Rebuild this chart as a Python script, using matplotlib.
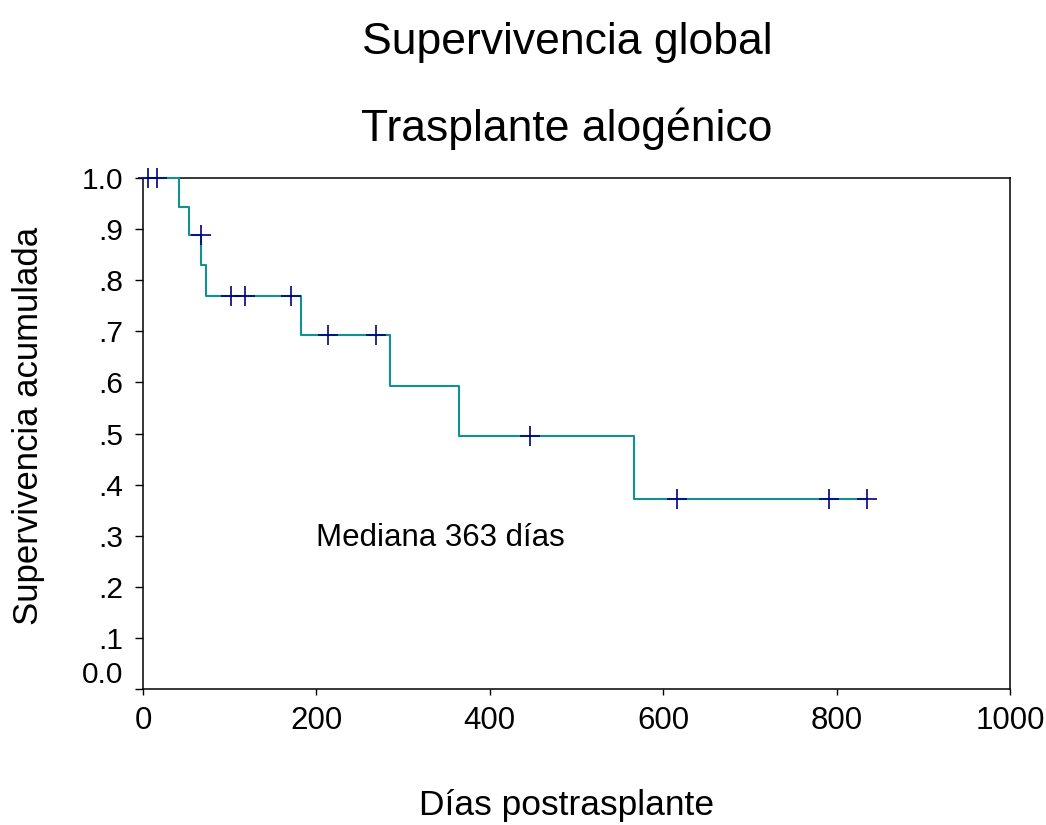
import numpy as np
import matplotlib
matplotlib.use('Agg')
import matplotlib.pyplot as plt

plt.rcParams['font.family'] = ['Liberation Sans', 'DejaVu Sans']

# Kaplan-Meier steps (days, cumulative survival)
step_days = [0, 42, 53, 67, 73, 182, 285, 364, 566, 835]
step_surv = [1.0, 0.944, 0.889, 0.830, 0.770, 0.693, 0.594, 0.495, 0.371, 0.371]

# censored cases
cens_days = [6, 16, 67, 101, 118, 171, 213, 269, 446, 616, 791, 835]
cens_surv = [1.0, 1.0, 0.889, 0.770, 0.770, 0.770, 0.693, 0.693, 0.495, 0.371, 0.371, 0.371]

yticks = [0.0, 0.1, 0.2, 0.3, 0.4, 0.5, 0.6, 0.7, 0.8, 0.9, 1.0]
ytick_labels = ['0.0', '.1', '.2', '.3', '.4', '.5', '.6', '.7', '.8', '.9', '1.0']
xticks = [0, 200, 400, 600, 800, 1000]

fig = plt.figure(figsize=(10.46, 8.25), dpi=100)
ax = fig.add_axes([0.1367, 0.1648, 0.8289, 0.6194])

ax.step(step_days, step_surv, where='post', color='#119191', lw=1.5, zorder=3,
        clip_on=False)
ax.plot(cens_days, cens_surv, ls='none', marker='+', ms=14, mew=1.2,
        color='#000080', zorder=4, clip_on=False)

ax.set_xlim(0, 1000)
ax.set_ylim(0, 1.0)
ax.set_xticks(xticks)
ax.set_xticklabels([str(v) for v in xticks])
ax.set_yticks(yticks)
ax.set_yticklabels(ytick_labels)
ax.tick_params(axis='y', direction='out', length=6, width=1, pad=8, labelsize=21.5)
ax.tick_params(axis='x', direction='out', length=4, width=1, pad=8, labelsize=22.5)
ax.yaxis.get_major_ticks()[0].label1.set_verticalalignment('bottom')
for s in ax.spines.values():
    s.set_linewidth(1.1)
    s.set_zorder(2)

ax.text(200, 0.28, 'Mediana 363 días', fontsize=22.5, ha='left', va='baseline')

fig.text(0.542, 0.9345, 'Supervivencia global', fontsize=32, ha='center', va='baseline')
fig.text(0.542, 0.829, 'Trasplante alogénico', fontsize=32, ha='center', va='baseline')
fig.text(0.542, 0.012, 'Días postrasplante', fontsize=25.5, ha='center', va='baseline')
fig.text(0.027, 0.4836, 'Supervivencia acumulada', fontsize=25, rotation=90,
         ha='center', va='center')

fig.savefig('out.png', dpi=100)
